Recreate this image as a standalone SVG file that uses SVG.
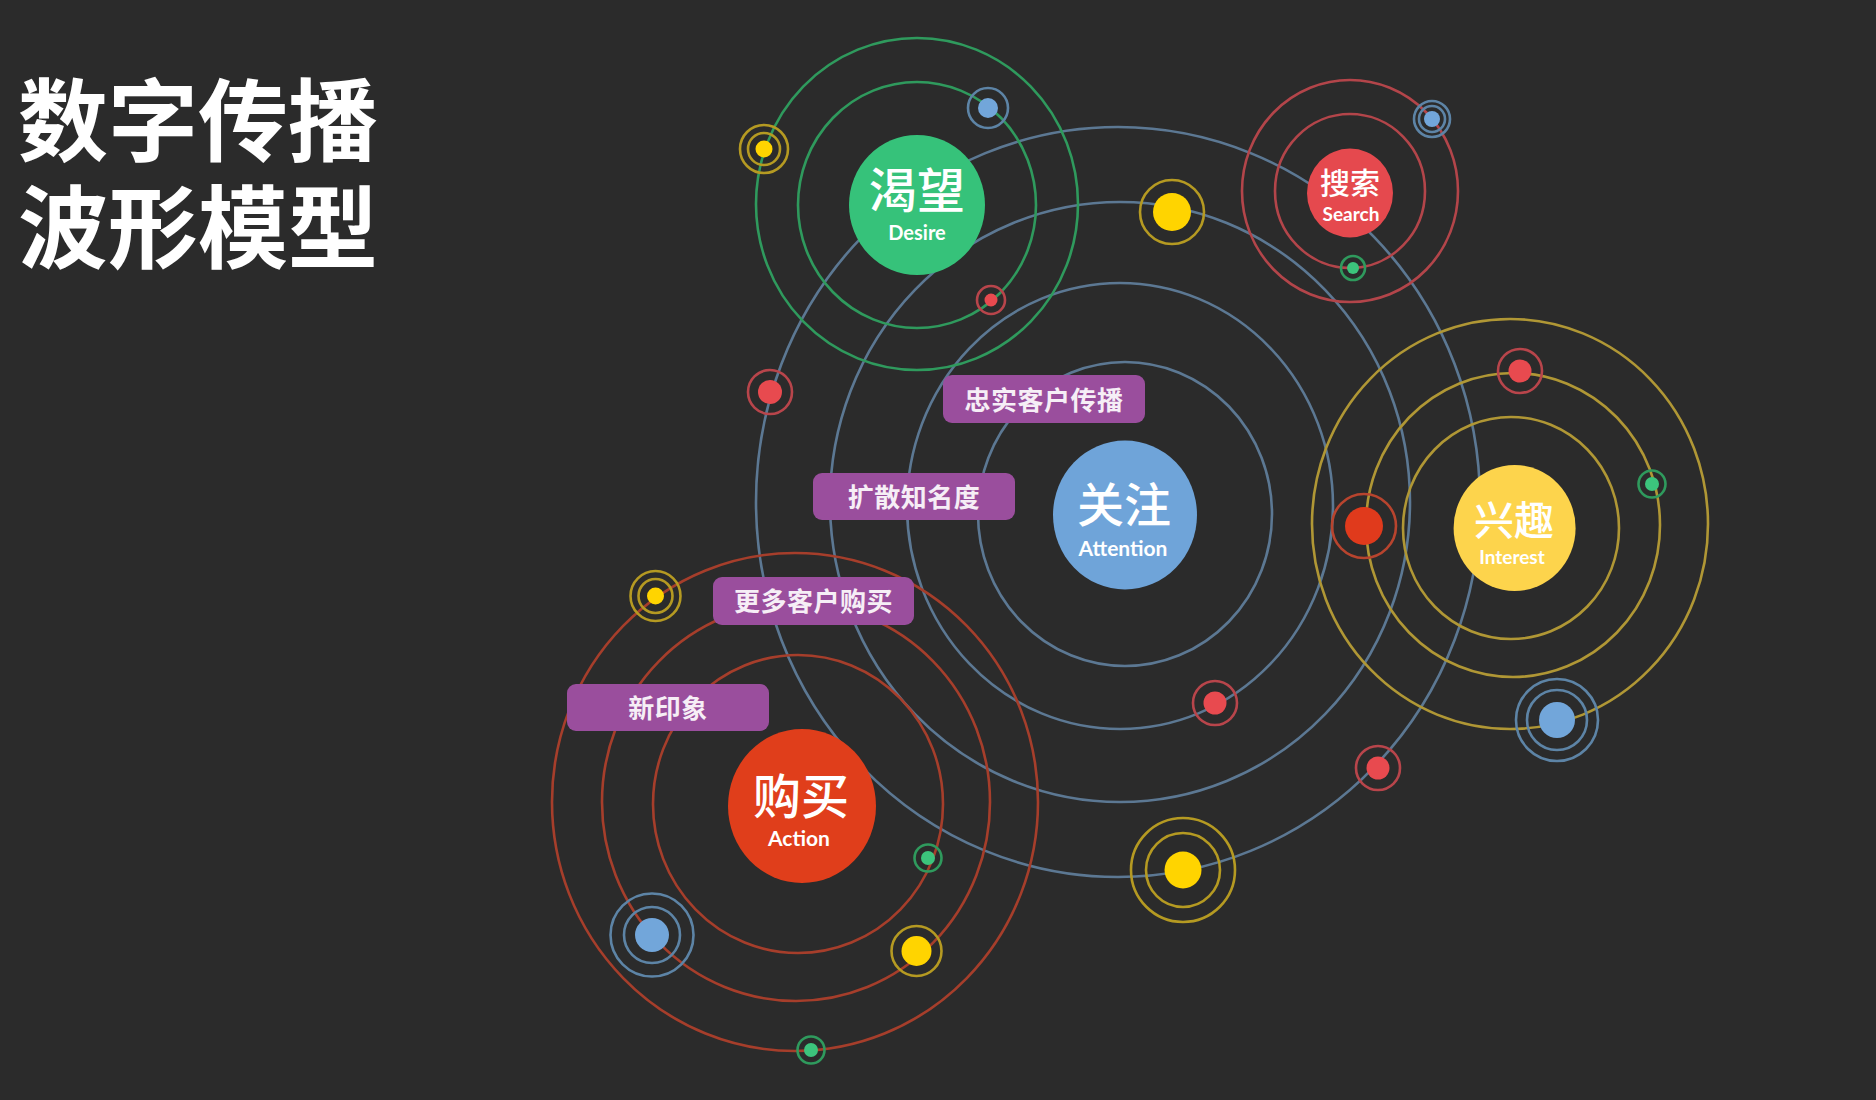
<svg xmlns="http://www.w3.org/2000/svg" width="1876" height="1100" viewBox="0 0 1876 1100">
<style>
.o{fill:none;stroke-width:2.6}
.ob{stroke:#5c7893}
.og{stroke:#2f9a5d}
.or{stroke:#b3454a}
.oy{stroke:#b09735}
.oa{stroke:#a63e2b}
.r{fill:none;stroke-width:2.6}
.ry{stroke:#b59a22}
.rb{stroke:#5d84a6}
.rr{stroke:#b8454b}
.rg{stroke:#2f9a5d}
.ro{stroke:#b8442e}
.dy{fill:#ffd400}
.db{fill:#72a6da}
.dr{fill:#e84a4f}
.dg{fill:#3cc47c}
.do{fill:#e03a1c}
.lbl rect{fill:#9a4e9d}
.lbl text{fill:#f6eef6;font-family:"Noto Sans CJK SC",sans-serif;font-weight:700;font-size:26px;text-anchor:middle;letter-spacing:0.5px}
.cn{fill:#ffffff;font-family:"Noto Sans CJK SC",sans-serif;font-weight:500;text-anchor:middle}
.en{fill:#ffffff;font-family:Lato,"Liberation Sans",sans-serif;font-weight:700;text-anchor:middle}
.title{fill:#ffffff;font-family:"Noto Sans CJK SC",sans-serif;font-weight:700;font-size:90px}
</style>
<rect x="0" y="0" width="1876" height="1100" fill="#2b2b2b"/>

<g id="title">
<text class="title" x="18" y="154">数字传播</text>
<text class="title" x="18" y="261">波形模型</text>
</g>

<g id="connectors">
<ellipse class="o ob" cx="1125" cy="514" rx="147" ry="152"/>
<ellipse class="o ob" cx="1120" cy="506" rx="213" ry="223"/>
<ellipse class="o ob" cx="1120" cy="502" rx="290" ry="300"/>
<ellipse class="o ob" cx="1118" cy="502" rx="362" ry="375"/>
<ellipse class="o og" cx="917" cy="205" rx="119" ry="123"/>
<ellipse class="o og" cx="917" cy="204" rx="161" ry="166"/>
<ellipse class="o or" cx="1350" cy="191" rx="75" ry="77"/>
<ellipse class="o or" cx="1350" cy="191" rx="108" ry="111"/>
<ellipse class="o oy" cx="1511" cy="528" rx="108" ry="111"/>
<ellipse class="o oy" cx="1513" cy="525" rx="147" ry="152"/>
<ellipse class="o oy" cx="1510" cy="524" rx="198" ry="205"/>
<ellipse class="o oa" cx="798" cy="804" rx="145" ry="149"/>
<ellipse class="o oa" cx="796" cy="802" rx="194" ry="199"/>
<ellipse class="o oa" cx="795" cy="802" rx="243" ry="249"/>
</g>

<g id="planets">
<g id="p1"><circle class="r ry" cx="764" cy="149" r="16"/><circle class="r ry" cx="764" cy="149" r="24"/><circle class="dy" cx="764" cy="149" r="8.5"/></g>
<g id="p2"><circle class="r rb" cx="988" cy="108" r="20"/><circle class="db" cx="988" cy="108" r="10"/></g>
<g id="p3"><circle class="r rr" cx="991" cy="300" r="14"/><circle class="dr" cx="991" cy="300" r="6.5"/></g>
<g id="p4"><circle class="r rr" cx="770" cy="392" r="22"/><circle class="dr" cx="770" cy="392" r="12"/></g>
<g id="p5"><circle class="r ry" cx="1172" cy="212" r="32"/><circle class="dy" cx="1172" cy="212" r="19"/></g>
<g id="p6"><circle class="r rr" cx="1215" cy="703" r="22"/><circle class="dr" cx="1215" cy="703" r="11.5"/></g>
<g id="p7"><circle class="r rr" cx="1378" cy="768" r="22"/><circle class="dr" cx="1378" cy="768" r="11.5"/></g>
<g id="p8"><circle class="r ry" cx="1183" cy="870" r="37"/><circle class="r ry" cx="1183" cy="870" r="52"/><circle class="dy" cx="1183" cy="870" r="18.5"/></g>
<g id="p9"><circle class="r rb" cx="1432" cy="119" r="13"/><circle class="r rb" cx="1432" cy="119" r="18"/><circle class="db" cx="1432" cy="119" r="8"/></g>
<g id="p10"><circle class="r rg" cx="1353" cy="268" r="12"/><circle class="dg" cx="1353" cy="268" r="6"/></g>
<g id="p11"><circle class="r rr" cx="1520" cy="371" r="22"/><circle class="dr" cx="1520" cy="371" r="11.5"/></g>
<g id="p12"><circle class="r rg" cx="1652" cy="484" r="13.5"/><circle class="dg" cx="1652" cy="484" r="7"/></g>
<g id="p13"><circle class="r ro" cx="1364" cy="526" r="32"/><circle class="do" cx="1364" cy="526" r="19"/></g>
<g id="p14"><circle class="r rb" cx="1557" cy="720" r="30"/><circle class="r rb" cx="1557" cy="720" r="41"/><circle class="db" cx="1557" cy="720" r="18"/></g>
<g id="p15"><circle class="r ry" cx="655.5" cy="596" r="17"/><circle class="r ry" cx="655.5" cy="596" r="25"/><circle class="dy" cx="655.5" cy="596" r="8.5"/></g>
<g id="p16"><circle class="r rb" cx="652" cy="935" r="28"/><circle class="r rb" cx="652" cy="935" r="41.5"/><circle class="db" cx="652" cy="935" r="17"/></g>
<g id="p17"><circle class="r rg" cx="928" cy="858" r="13.5"/><circle class="dg" cx="928" cy="858" r="7"/></g>
<g id="p18"><circle class="r ry" cx="916.5" cy="951" r="25"/><circle class="dy" cx="916.5" cy="951" r="15"/></g>
<g id="p19"><circle class="r rg" cx="811" cy="1050" r="13.5"/><circle class="dg" cx="811" cy="1050" r="7"/></g>
</g>

<g id="label-loyal" class="lbl"><rect x="943" y="375" width="202" height="48" rx="9"/><text x="1044" y="410">忠实客户传播</text></g>
<g id="label-spread" class="lbl"><rect x="813" y="473" width="202" height="47" rx="9"/><text x="914" y="507">扩散知名度</text></g>
<g id="label-more" class="lbl"><rect x="713" y="577" width="201" height="48" rx="9"/><text x="813.5" y="611">更多客户购买</text></g>
<g id="label-new" class="lbl"><rect x="567" y="684" width="202" height="47" rx="9"/><text x="668" y="718">新印象</text></g>

<g id="node-desire">
<ellipse cx="917" cy="205" rx="68" ry="70" fill="#36c27a"/>
<text class="cn" x="917" y="208" font-size="48">渴望</text>
<text class="en" x="917" y="240" font-size="20">Desire</text>
</g>
<g id="node-attention">
<ellipse cx="1125" cy="515" rx="72" ry="74.5" fill="#6fa4d9"/>
<text class="cn" x="1124" y="522" font-size="47">关注</text>
<text class="en" x="1123" y="556" font-size="21">Attention</text>
</g>
<g id="node-search">
<ellipse cx="1350" cy="193" rx="43" ry="44.5" fill="#e5494e"/>
<text class="cn" x="1350" y="194" font-size="30">搜索</text>
<text class="en" x="1351" y="221" font-size="19">Search</text>
</g>
<g id="node-interest">
<ellipse cx="1514.6" cy="528" rx="61" ry="63" fill="#fdd44c"/>
<text class="cn" x="1514" y="535" font-size="40">兴趣</text>
<text class="en" x="1512" y="564" font-size="19">Interest</text>
</g>
<g id="node-action">
<ellipse cx="802" cy="806" rx="74" ry="77" fill="#e03e1b"/>
<text class="cn" x="801" y="814" font-size="48">购买</text>
<text class="en" x="799" y="846" font-size="21">Action</text>
</g>
</svg>
